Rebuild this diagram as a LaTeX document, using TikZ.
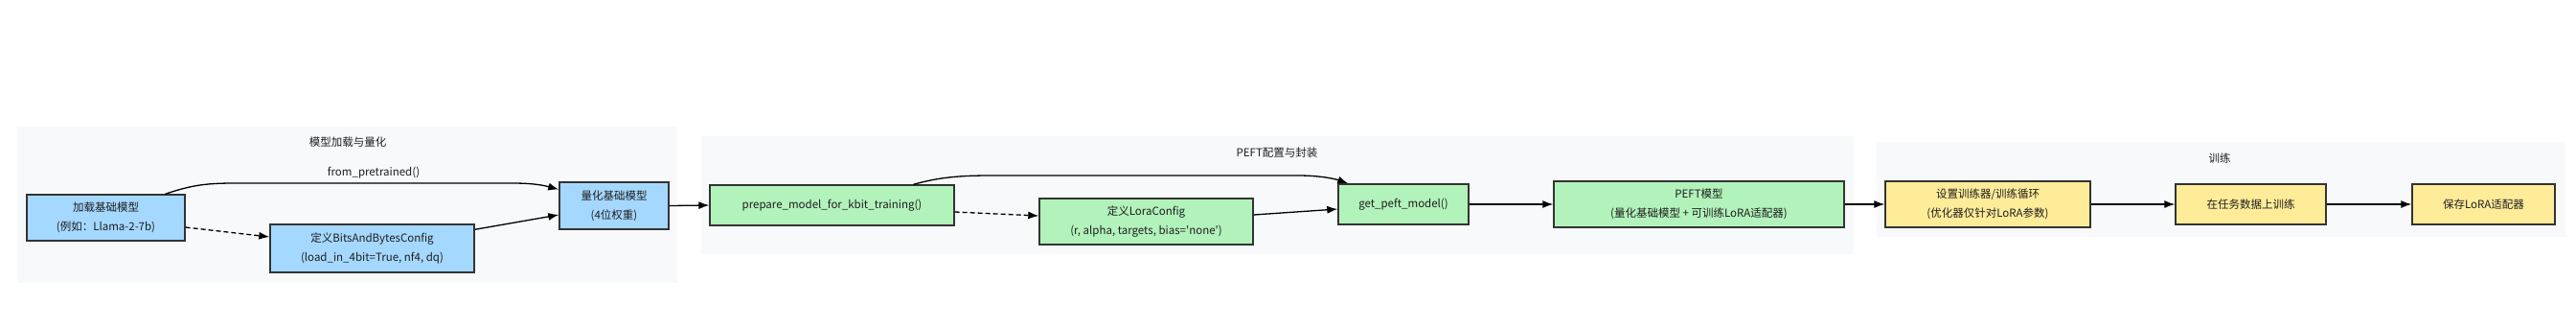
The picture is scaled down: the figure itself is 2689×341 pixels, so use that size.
\documentclass[tikz,border=0pt]{standalone}
\usepackage{fontspec}
\setmainfont{Noto Sans CJK SC}
\newfontfamily\plainq{Noto Sans CJK SC}
\newcommand{\sq}{{\plainq\symbol{39}}}
\usetikzlibrary{arrows.meta}
\definecolor{cbg}{HTML}{F8F9FA}
\definecolor{cblue}{HTML}{A5D8FF}
\definecolor{cgreen}{HTML}{B2F2BB}
\definecolor{cyellow}{HTML}{FFEC99}
\definecolor{cborder}{HTML}{333333}
\definecolor{ctext}{HTML}{1E1E1E}
\tikzset{
  box/.style={draw=cborder, line width=1.4pt, inner sep=0pt, align=center, text=ctext,
    font=\fontsize{11.5}{20}\selectfont},
  bluebox/.style={box, fill=cblue},
  greenbox/.style={box, fill=cgreen},
  yellowbox/.style={box, fill=cyellow},
  cluster/.style={fill=cbg, draw=none, inner sep=0pt},
  ctitle/.style={text=ctext, font=\fontsize{11.5}{14}\selectfont},
  edge/.style={draw=black, line width=1.3pt, -{Latex[length=11pt,width=8pt]}},
  dedge/.style={edge, dash pattern=on 5pt off 3pt},
}
\begin{document}
\begin{tikzpicture}[x=1pt,y=-1pt]
\useasboundingbox[fill=white] (0,0) rectangle (2689,341);
% clusters
\node[cluster, minimum width=689pt, minimum height=163pt] (c1) at (362.5,213.5) {};
\node[cluster, minimum width=1203pt, minimum height=123pt] (c2) at (1333.5,203.5) {};
\node[cluster, minimum width=719pt, minimum height=99pt] (c3) at (2318.5,197.5) {};
\node[ctitle] (t1) at (363,148) {模型加载与量化};
\node[ctitle] (t2) at (1333,159) {PEFT配置与封装};
\node[ctitle] (t3) at (2317,165) {训练};
% nodes
\node[bluebox, minimum width=165pt, minimum height=48pt] (load) at (110.5,227) {加载基础模型\\(例如：Llama-2-7b)};
\node[bluebox, minimum width=213pt, minimum height=50pt] (bnb) at (388.5,259) {定义BitsAndBytesConfig\\(load\_in\_4bit=True, nf4, dq)};
\node[bluebox, minimum width=114pt, minimum height=49pt] (quant) at (641,214.5) {量化基础模型\\(4位权重)};
\node[greenbox, minimum width=255pt, minimum height=42pt] (prep) at (868.5,214) {prepare\_model\_for\_kbit\_training()};
\node[greenbox, minimum width=223pt, minimum height=48pt] (lora) at (1196.5,231) {定义LoraConfig\\(r, alpha, targets, bias=\sq none\sq)};
\node[greenbox, minimum width=136pt, minimum height=42pt] (getpeft) at (1465,213) {get\_peft\_model()};
\node[greenbox, minimum width=303pt, minimum height=48pt] (peft) at (1773.5,213) {PEFT模型\\(量化基础模型 + 可训练LoRA适配器)};
\node[yellowbox, minimum width=214pt, minimum height=48pt] (setup) at (2075,213) {设置训练器/训练循环\\(优化器仅针对LoRA参数)};
\node[yellowbox, minimum width=157pt, minimum height=42pt] (train) at (2349.5,213) {在任务数据上训练};
\node[yellowbox, minimum width=149pt, minimum height=42pt] (save) at (2592.5,213) {保存LoRA适配器};
% edges
\draw[edge] ([xshift=62pt]load.north) .. controls (200,193) and (215,191) .. (245,191)
  -- node[above=1pt, ctitle] (lfp) {from\_pretrained()} (535,191)
  .. controls (560,191) and (570,194) .. ([yshift=17pt]quant.west);
\draw[dedge] ([yshift=-10pt]load.east) -- ([yshift=12pt]bnb.west);
\draw[edge] ([yshift=-6pt]bnb.north east) -- ([yshift=-9.5pt]quant.west);
\draw[edge] (quant.east) -- (prep.west);
\draw[edge] ([xshift=85pt]prep.north) .. controls (980,185) and (1000,183) .. (1035,183)
  -- (1355,183) .. controls (1380,183) and (1395,187) .. ([xshift=11pt]getpeft.north west);
\draw[dedge] ([yshift=-7pt]prep.east) -- ([yshift=6pt]lora.west);
\draw[edge] ([yshift=7pt]lora.east) -- ([yshift=-5pt]getpeft.west);
\draw[edge] (getpeft.east) -- (peft.west);
\draw[edge] (peft.east) -- (setup.west);
\draw[edge] (setup.east) -- (train.west);
\draw[edge] (train.east) -- (save.west);
\end{tikzpicture}
\end{document}
